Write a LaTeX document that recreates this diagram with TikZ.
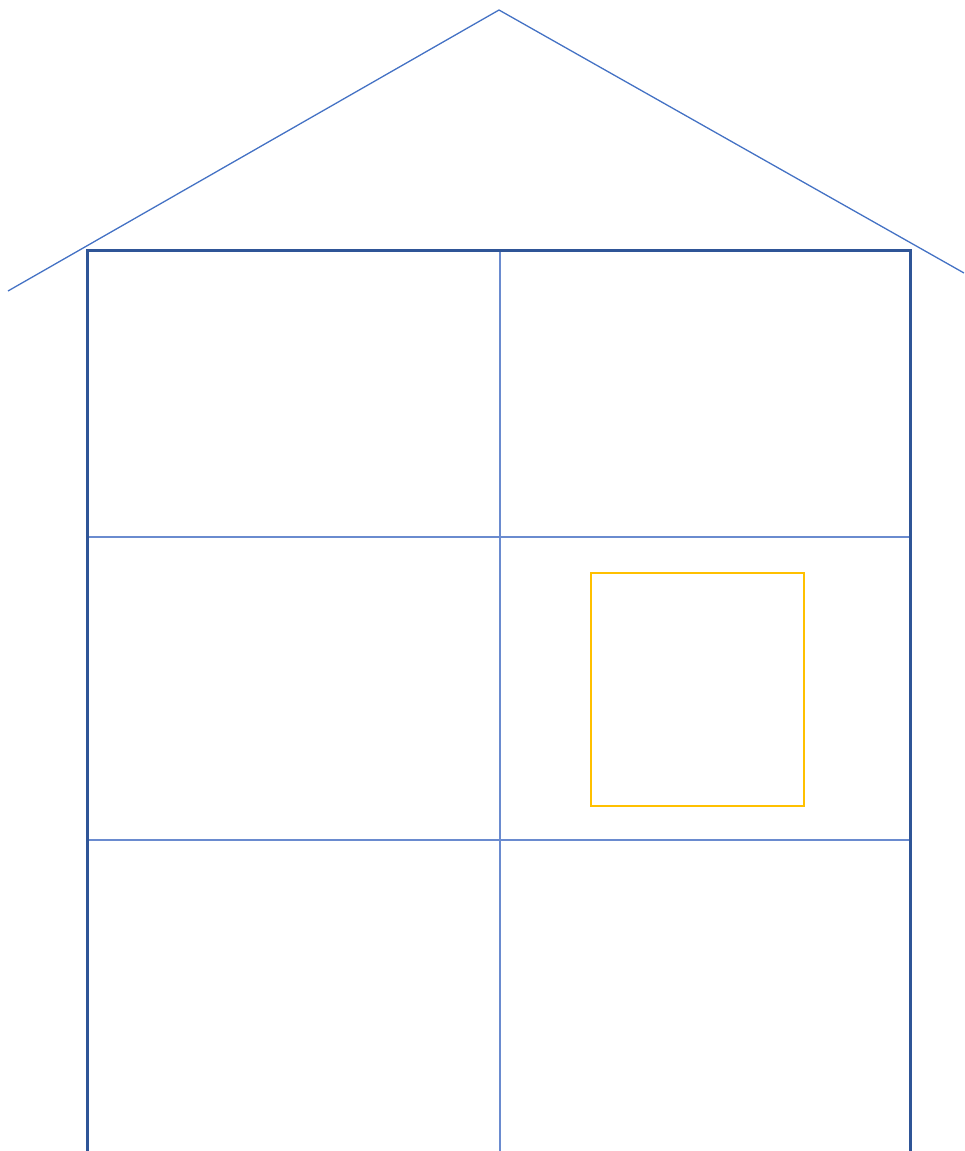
\documentclass[tikz,border=0pt]{standalone}
\definecolor{roofblue}{HTML}{4472C4}
\definecolor{wallblue}{HTML}{2F5597}
\definecolor{gridblue}{HTML}{6A8BCF}
\definecolor{winyellow}{HTML}{FFC000}
\tikzset{
  roofline/.style={draw=roofblue, line width=1.3pt},
  wall/.style={draw=wallblue, line width=3pt},
  gridline/.style={draw=gridblue, line width=1.6pt},
  windowbox/.style={draw=winyellow, line width=2.5pt},
}
\begin{document}
\begin{tikzpicture}[x=1pt,y=-1pt]
\useasboundingbox (0,0) rectangle (964,1151);
\begin{scope}
\clip (0,0) rectangle (964,1151);
% roof
\coordinate (rl) at (8,291);
\coordinate (apex) at (499,10);
\coordinate (rr) at (964,273);
\draw[roofline] (rl) -- (apex) -- (rr);
% grid
\coordinate (mt) at (500,250);
\coordinate (mb) at (500,1160);
\coordinate (h1l) at (87,537);
\coordinate (h1r) at (910,537);
\coordinate (h2l) at (87,840);
\coordinate (h2r) at (910,840);
\draw[gridline] (mt) -- (mb);
\draw[gridline] (h1l) -- (h1r);
\draw[gridline] (h2l) -- (h2r);
% walls
\coordinate (wbl) at (87,1160);
\coordinate (wtl) at (87,250);
\coordinate (wtr) at (910,250);
\coordinate (wbr) at (910,1160);
\draw[wall] (wbl) -- (wtl) -- (wtr) -- (wbr);
% window
\coordinate (w1) at (591,573);
\coordinate (w2) at (804,806);
\draw[windowbox] (w1) rectangle (w2);
\end{scope}
\end{tikzpicture}
\end{document}
